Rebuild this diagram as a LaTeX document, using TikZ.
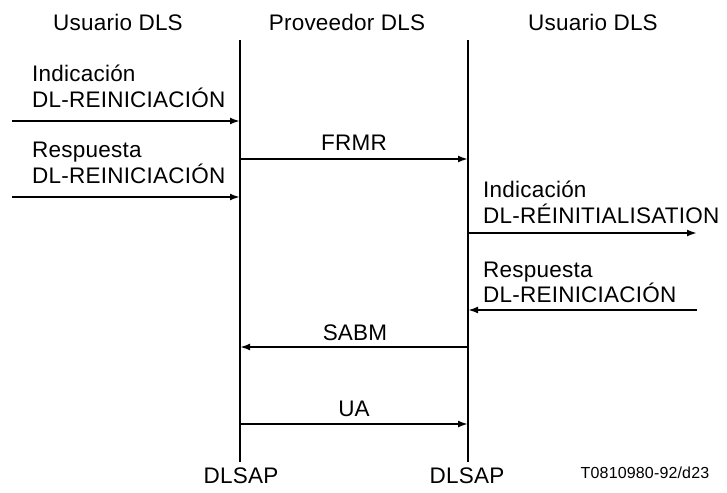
\documentclass[tikz,border=0pt]{standalone}
\usepackage{fontspec}
\setmainfont[LetterSpace=1]{Liberation Sans}
\usetikzlibrary{arrows.meta,positioning}

\begin{document}
\begin{tikzpicture}[x=1pt,y=-1pt,font=\fontsize{22.5}{25}\selectfont]

\tikzset{lifeline/.style={line width=2.2pt},
msg/.style={line width=2.2pt,-{Latex[length=10pt,width=7pt]}},
lbl/.style={inner sep=0pt,anchor=base},
txt/.style={inner sep=0pt,anchor=base west}}

\useasboundingbox (0,0) rectangle (727,492);

% Headers
\node[lbl] (userL) at (118,31) {Usuario DLS};
\node[lbl] (prov) at (347,31) {Proveedor DLS};
\node[lbl] (userR) at (593,31) {Usuario DLS};

% Lifelines
\coordinate (topL) at (240,40); \coordinate (botL) at (240,462);
\coordinate (topR) at (468,40); \coordinate (botR) at (468,462);
\draw[lifeline] (topL) -- (botL);
\draw[lifeline] (topR) -- (botR);

% Access points
\node[lbl] (sapL) at (241,483) {DLSAP};
\node[lbl] (sapR) at (467,483) {DLSAP};

% Left user primitives
\node[txt] (indL1) at (32,82) {Indicación};
\node[txt] (indL2) at (32,107) {DL-REINICIACIÓN};
\coordinate (indLa) at (12,121); \coordinate (indLb) at (240,121);
\draw[msg] (indLa) -- (indLb);
\node[txt] (resL1) at (32,157) {Respuesta};
\node[txt] (resL2) at (32,183) {DL-REINICIACIÓN};
\coordinate (resLa) at (12,197); \coordinate (resLb) at (240,197);
\draw[msg] (resLa) -- (resLb);

% Frames
\coordinate (frmrA) at (240,159); \coordinate (frmrB) at (468,159);
\draw[msg] (frmrA) -- (frmrB);
\node[lbl] (frmr) at (354,150) {FRMR};
\coordinate (sabmA) at (468,347); \coordinate (sabmB) at (240,347);
\draw[msg] (sabmA) -- (sabmB);
\node[lbl] (sabm) at (355,340) {SABM};
\coordinate (uaA) at (240,424); \coordinate (uaB) at (468,424);
\draw[msg] (uaA) -- (uaB);
\node[lbl] (ua) at (354,416) {UA};

% Right user primitives
\node[txt] (indR1) at (483,197) {Indicación};
\node[txt] (indR2) at (483,223) {DL-RÉINITIALISATION};
\coordinate (indRa) at (468,233); \coordinate (indRb) at (697,233);
\draw[msg] (indRa) -- (indRb);
\node[txt] (resR1) at (483,277) {Respuesta};
\node[txt] (resR2) at (483,302) {DL-REINICIACIÓN};
\coordinate (resRa) at (697,310); \coordinate (resRb) at (468,310);
\draw[msg] (resRa) -- (resRb);

% Figure reference
\node[lbl,font=\fontsize{16}{18}\selectfont] (ref) at (645,478) {T0810980-92/d23};

\end{tikzpicture}
\end{document}
